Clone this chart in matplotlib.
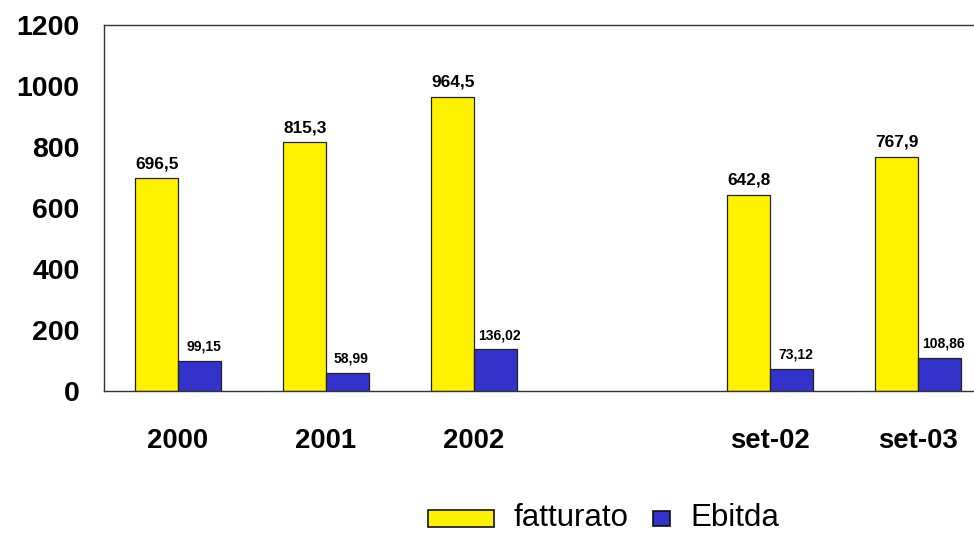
import numpy as np
import matplotlib
matplotlib.use("Agg")
import matplotlib.pyplot as plt
from matplotlib.patches import Rectangle

# Data
categories = ["2000", "2001", "2002", "", "set-02", "set-03"]
fatturato = [696.5, 815.3, 964.5, np.nan, 642.8, 767.9]
ebitda = [99.15, 58.99, 136.02, np.nan, 73.12, 108.86]
series_names = ["fatturato", "Ebitda"]
y_ticks = [0, 200, 400, 600, 800, 1000, 1200]

YELLOW = "#FFF200"
BLUE = "#3333CC"

plt.rcParams["font.family"] = ["Liberation Sans", "DejaVu Sans"]

fig = plt.figure(figsize=(9.74, 5.33), dpi=100)
W, H = 974, 533
# plot area runs past the right edge of the canvas
ax = fig.add_axes([104 / W, (H - 391) / H, 888 / W, (391 - 24.7) / H])

x = np.arange(len(categories))
bw = 0.288
ax.bar(x - bw / 2, fatturato, bw, color=YELLOW, edgecolor="#222222", linewidth=0.9)
ax.bar(x + bw / 2, ebitda, bw, color=BLUE, edgecolor="#222222", linewidth=0.9)

def fmt(v, d):
    return f"{v:.{d}f}".replace(".", ",")

for xi, v in zip(x, fatturato):
    if np.isnan(v):
        continue
    ax.annotate(fmt(v, 1), (xi - bw / 2, v), xytext=(0, 7.2), textcoords="offset points",
                ha="center", va="baseline", fontsize=12.4, fontweight="bold")
for xi, v in zip(x, ebitda):
    if np.isnan(v):
        continue
    ax.annotate(fmt(v, 2), (xi + bw / 2, v), xytext=(3, 7.5), textcoords="offset points",
                ha="center", va="baseline", fontsize=10, fontweight="bold")

ax.set_xlim(-0.5, len(categories) - 0.5)
ax.set_ylim(0, 1200)
ax.set_yticks(y_ticks)
ax.set_yticklabels([str(t) for t in y_ticks], fontsize=20.5, fontweight="bold")
ax.set_xticks(x)
ax.set_xticklabels(categories, fontsize=19.8, fontweight="bold")
ax.tick_params(axis="y", length=0, pad=17.5)
ax.tick_params(axis="x", length=0, pad=27)
for s in ax.spines.values():
    s.set_color("#333333")
    s.set_linewidth(1.0)

# Legend keys and labels, placed in figure pixel coordinates
def fig_rect(x0, y0, x1, y1, color):
    fig.add_artist(Rectangle((x0 / W, 1 - y1 / H), (x1 - x0) / W, (y1 - y0) / H,
                             transform=fig.transFigure, facecolor=color,
                             edgecolor="#111111", linewidth=1.2))

baseline = 526
fig_rect(428, 510, 494, 527, YELLOW)
fig.text(513 / W, 1 - baseline / H, series_names[0], fontsize=22.5, va="baseline", ha="left")
fig_rect(653, 511, 670, 526, BLUE)
fig.text(690 / W, 1 - baseline / H, series_names[1], fontsize=22.5, va="baseline", ha="left")

fig.savefig("out.png", dpi=100)
